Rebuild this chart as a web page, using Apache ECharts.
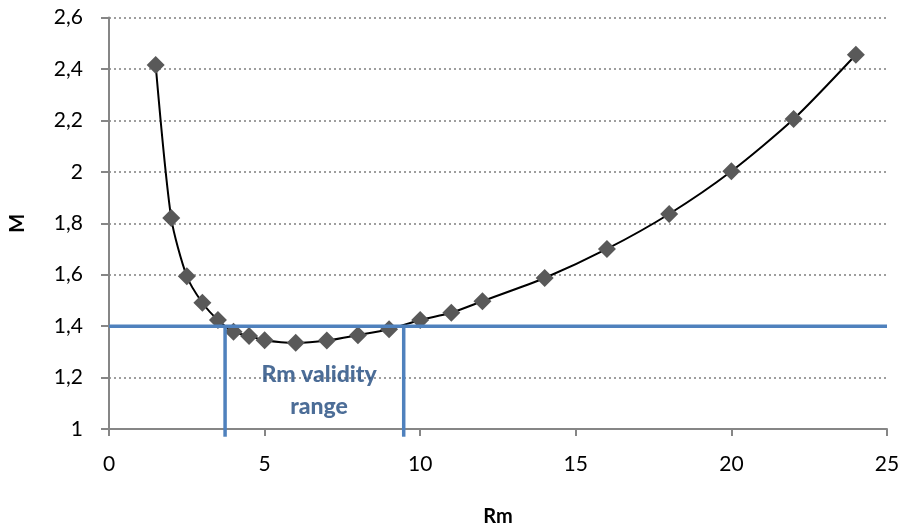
<!DOCTYPE html>
<html>
<head>
<meta charset="utf-8">
<script src="https://cdn.jsdelivr.net/npm/echarts@6/dist/echarts.min.js"></script>
<style>html,body{margin:0;padding:0;background:#fff}#c{width:904px;height:532px}</style>
</head>
<body>
<div id="c"></div>
<script>
var rmValues = [1.5, 2, 2.5, 3, 3.5, 4, 4.5, 5, 6, 7, 8, 9, 10, 11, 12, 14, 16, 18, 20, 22, 24];
var mValues  = [2.415, 1.82, 1.594, 1.491, 1.424, 1.378, 1.362, 1.345, 1.335, 1.344, 1.365, 1.388, 1.424, 1.452, 1.497, 1.587, 1.70, 1.836, 2.002, 2.205, 2.455];
var threshold = 1.4;
var rangeLo = 3.73;
var rangeHi = 9.47;
var rangeBottom = 0.97;
var xTicks = [0, 5, 10, 15, 20, 25];
var yTicks = [1, 1.2, 1.4, 1.6, 1.8, 2, 2.2, 2.4, 2.6];
var annotation = 'Rm validity\nrange';
var annotationPos = [6.75, 1.148];

var font = 'Lato, "Open Sans", "Liberation Sans", sans-serif';
var data = rmValues.map(function (x, i) { return [x, mValues[i]]; });
var blue = '#4F81BD';
var xMin = xTicks[0], xMax = xTicks[xTicks.length - 1];

function blueLine(points) {
  return {
    type: 'line', data: points, clip: false, z: 3, silent: true,
    symbol: 'none', lineStyle: {color: blue, width: 3.5}
  };
}

var chart = echarts.init(document.getElementById('c'), null, {renderer: 'canvas'});
chart.setOption({
  animation: false,
  grid: {left: 103, right: 17, top: 17.5, bottom: 90, containLabel: false},
  xAxis: {
    type: 'value', min: xMin, max: xMax, interval: 5,
    name: 'Rm', nameLocation: 'middle', nameGap: 78,
    nameTextStyle: {fontFamily: font, fontWeight: 'bold', fontSize: 20, color: '#000'},
    axisLine: {show: true, lineStyle: {color: '#868686', width: 2}},
    axisTick: {show: true, length: 7, lineStyle: {color: '#868686', width: 2}},
    axisLabel: {fontFamily: font, fontSize: 21, color: '#000', margin: 25},
    splitLine: {show: false}
  },
  yAxis: {
    type: 'value', min: yTicks[0], max: yTicks[yTicks.length - 1], interval: 0.2,
    name: 'M', nameLocation: 'middle', nameGap: 81, nameRotate: 90,
    nameTextStyle: {fontFamily: font, fontWeight: 'bold', fontSize: 20, color: '#000'},
    axisLine: {show: true, lineStyle: {color: '#868686', width: 2}},
    axisTick: {show: true, length: 8, lineStyle: {color: '#868686', width: 2}},
    axisLabel: {fontFamily: font, fontSize: 21, color: '#000', margin: 26,
      formatter: function (v) { return String(Math.round(v * 10) / 10).replace('.', ','); }},
    splitLine: {show: true, lineStyle: {color: '#7f7f7f', width: 1.6, type: [2, 3]}}
  },
  series: [{
    type: 'line', data: data, smooth: 0.25,
    symbol: 'diamond', symbolSize: 18,
    itemStyle: {color: '#595959'},
    lineStyle: {color: '#000', width: 2},
    z: 2
  },
  blueLine([[xMin, threshold], [xMax, threshold]]),
  blueLine([[rangeLo, threshold], [rangeLo, rangeBottom]]),
  blueLine([[rangeHi, threshold], [rangeHi, rangeBottom]]),
  {
    type: 'scatter', data: [annotationPos], symbolSize: 0, silent: true, z: 4,
    label: {show: true, position: 'inside', formatter: annotation, fontFamily: font, fontWeight: 900,
      fontSize: 23, color: '#1F497D', lineHeight: 32, align: 'center', verticalAlign: 'middle'}
  }]
});
</script>
</body>
</html>
